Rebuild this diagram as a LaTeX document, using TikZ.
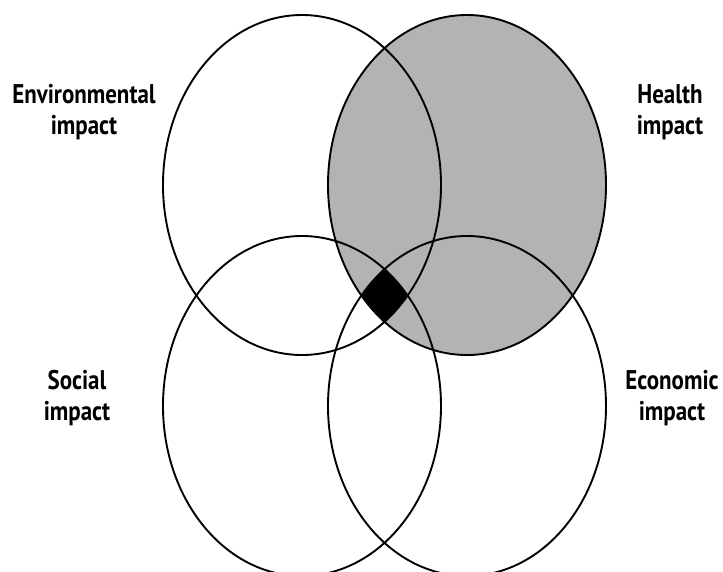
\documentclass[tikz,border=0pt]{standalone}
\usepackage{fontspec}
\setmainfont{PT Sans}[FakeStretch=0.85]
\definecolor{healthgray}{RGB}{179,179,179}
\begin{document}
\begin{tikzpicture}[x=1pt,y=-1pt,
  ring/.style={line width=1.9pt},
  lbl/.style={font=\bfseries\fontsize{27}{31}\selectfont, align=center, inner sep=0pt}]
\useasboundingbox (0,0) rectangle (723,571);
\clip (0,0) rectangle (723,571);
% centres of the four ellipses
\coordinate (env) at (302,185);
\coordinate (hea) at (467,185);
\coordinate (soc) at (302,406);
\coordinate (eco) at (467,406);
\tikzset{ell/.style={x radius=139, y radius=170}}
% shaded health ellipse
\fill[healthgray] (hea) ellipse [ell];
% common overlap of all four
\begin{scope}
  \clip (env) ellipse [ell];
  \clip (hea) ellipse [ell];
  \clip (soc) ellipse [ell];
  \fill[black] (eco) ellipse [ell];
\end{scope}
% outlines
\draw[ring] (env) ellipse [ell];
\draw[ring] (hea) ellipse [ell];
\draw[ring] (soc) ellipse [ell];
\draw[ring] (eco) ellipse [ell];
% labels
\node[lbl] (lenv) at (84,112) {Environmental\\impact};
\node[lbl] (lhea) at (670,112) {Health\\impact};
\node[lbl] (lsoc) at (77,398) {Social\\impact};
\node[lbl] (leco) at (672,398) {Economic\\impact};
\end{tikzpicture}
\end{document}
